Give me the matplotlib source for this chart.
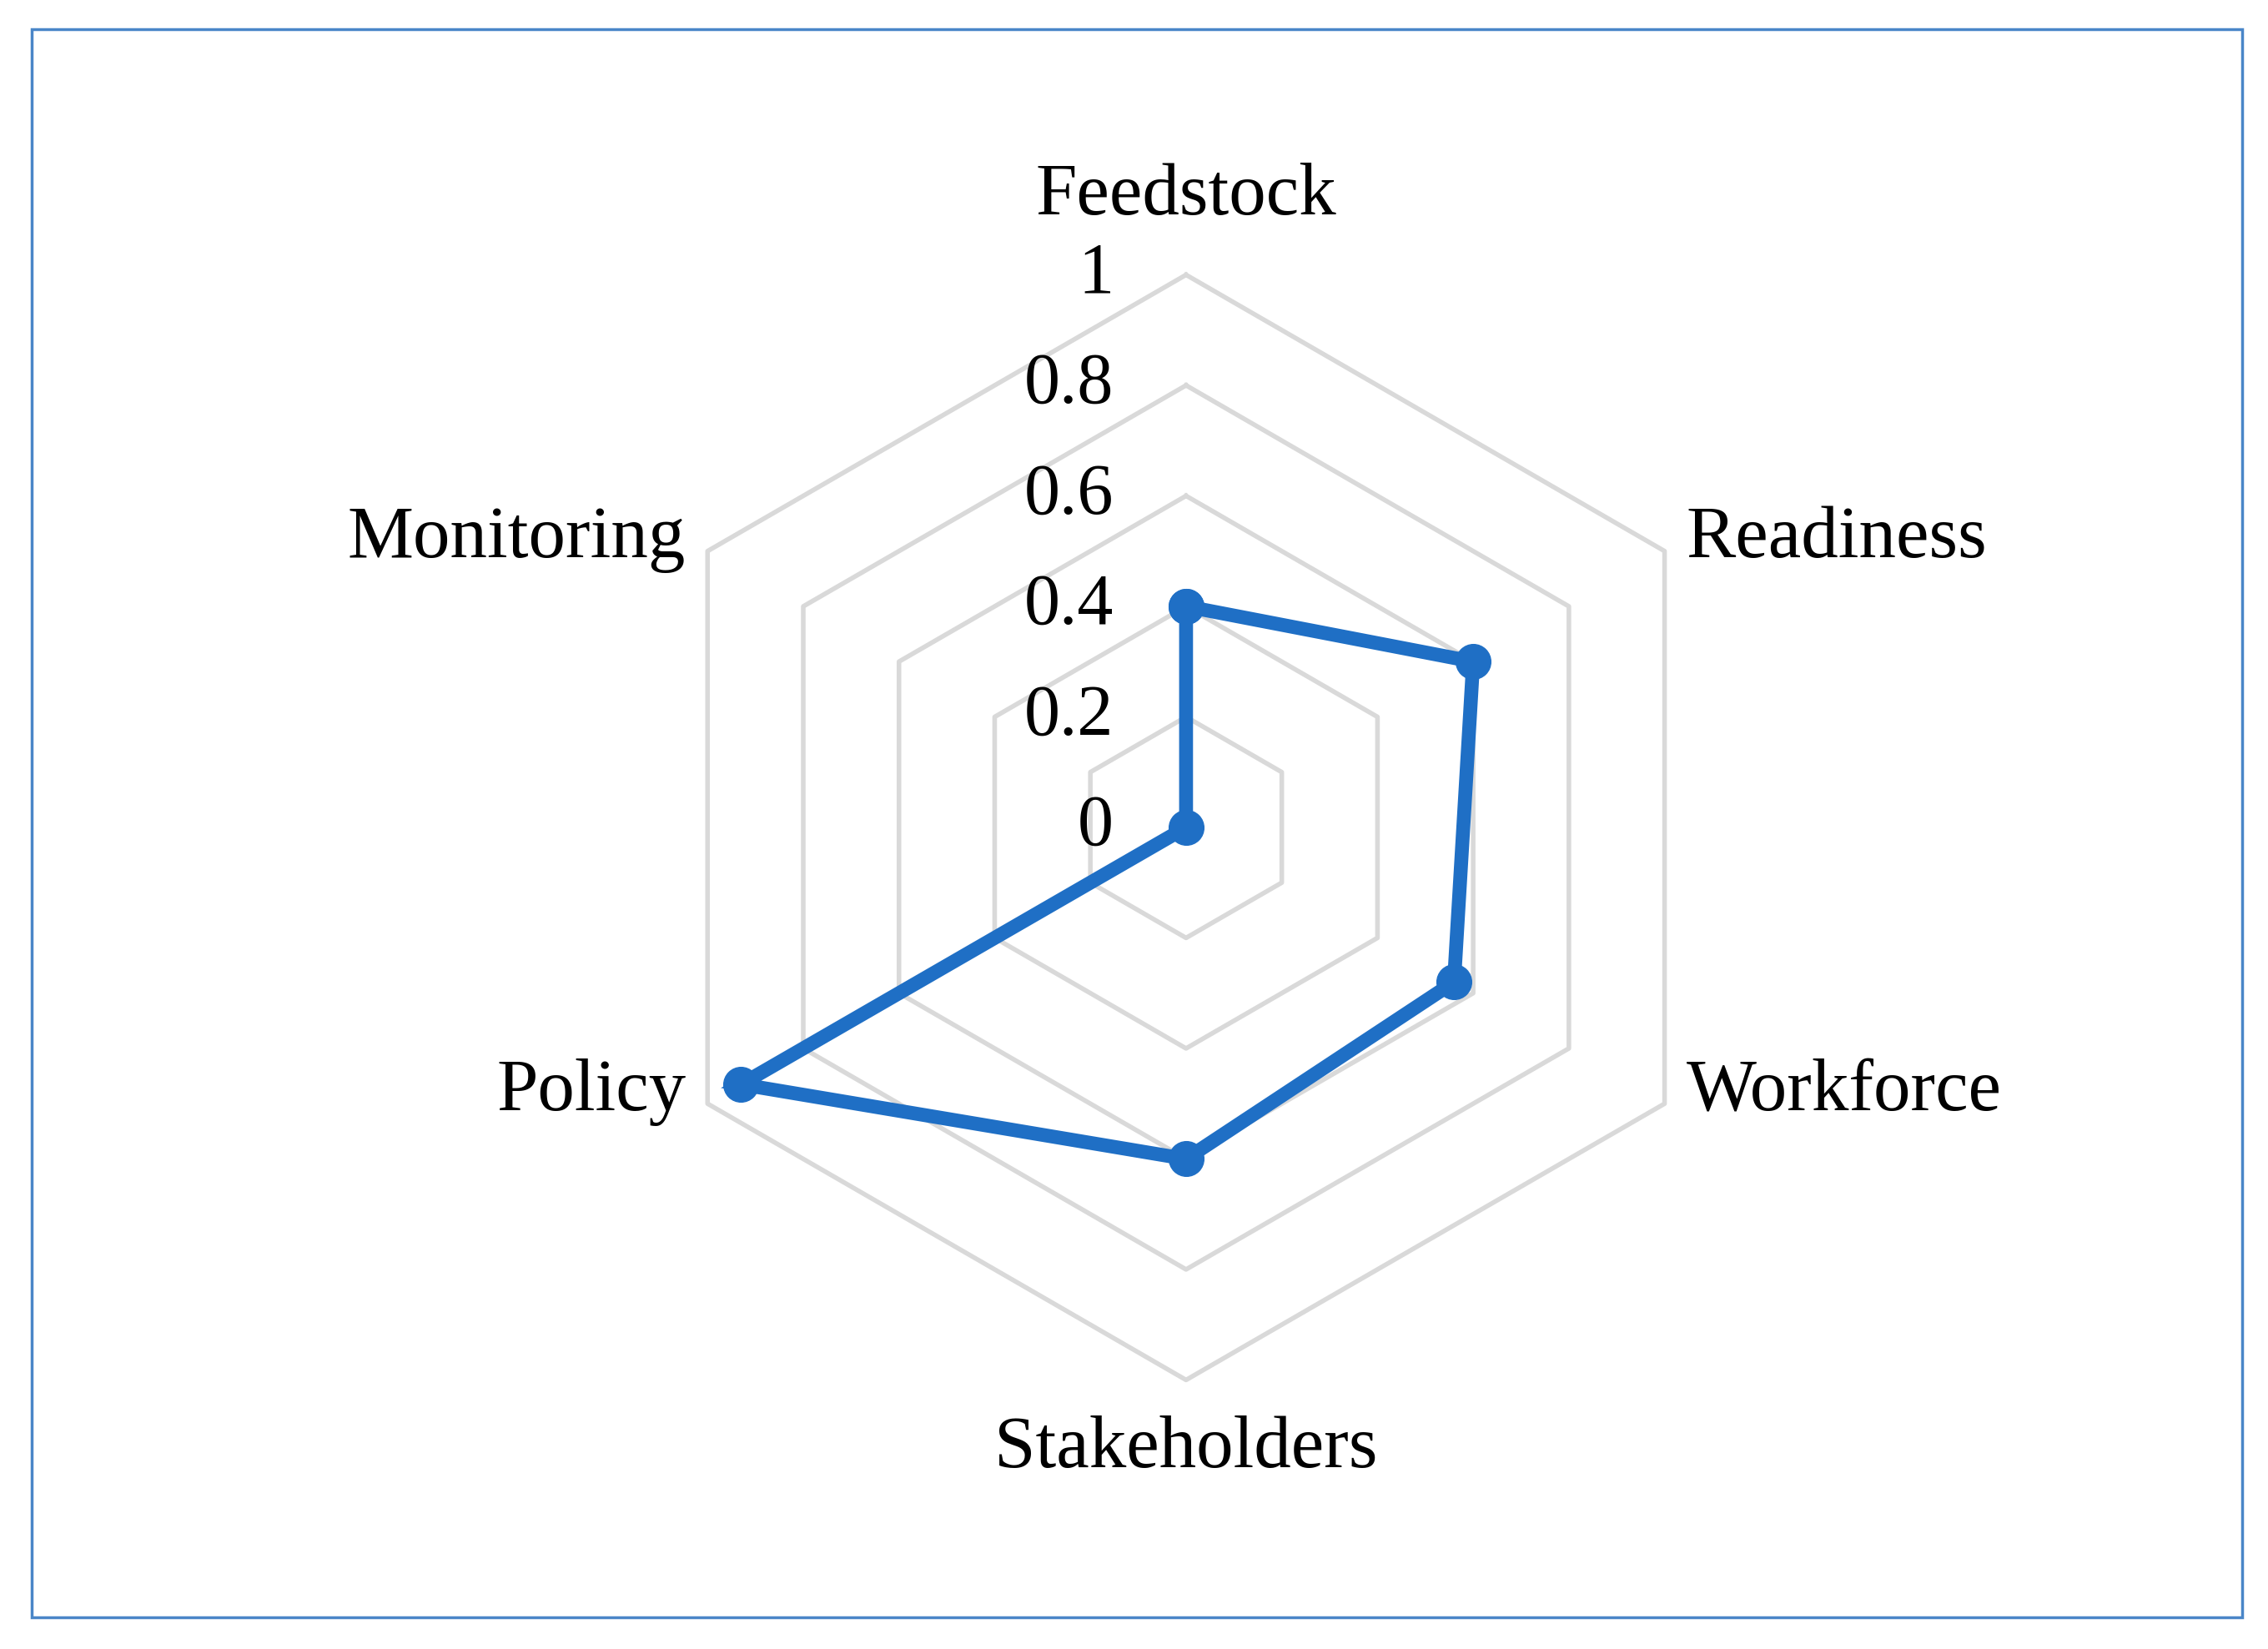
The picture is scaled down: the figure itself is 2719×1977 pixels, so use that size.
import numpy as np
import matplotlib.pyplot as plt
from matplotlib.patches import Rectangle

categories = ["Feedstock", "Readiness", "Workforce", "Stakeholders", "Policy", "Monitoring"]
values = [0.4, 0.6, 0.56, 0.6, 0.93, 0.0]
ticks = [0, 0.2, 0.4, 0.6, 0.8, 1]
tick_labels = ["0", "0.2", "0.4", "0.6", "0.8", "1"]

W, H = 1568, 1140
cx, cy, R = 820, 572, 382
fig = plt.figure(figsize=(27.19, 19.77), dpi=100)
ax = fig.add_axes([0, 0, 1, 1])
ax.set_xlim(0, W); ax.set_ylim(H, 0); ax.axis('off')

ang = np.pi/2 - np.arange(6) * 2*np.pi/6
ux, uy = np.cos(ang), -np.sin(ang)
font = 'Liberation Serif'
for t in ticks[1:]:
    xs = np.append(cx + ux*R*t, cx + ux[0]*R*t)
    ys = np.append(cy + uy*R*t, cy + uy[0]*R*t)
    ax.plot(xs, ys, color='#d9d9d9', lw=4, zorder=1)
for t, lab in zip(ticks, tick_labels):
    ax.text(cx - 50, cy - R*t, lab, ha='right', va='center', fontsize=62, family=font)

v = np.array(values)
xs = np.append(cx + ux*R*v, cx + ux[0]*R*v[0])
ys = np.append(cy + uy*R*v, cy + uy[0]*R*v[0])
ax.plot(xs, ys, color='#1f6fc5', lw=12, marker='o', markersize=30, zorder=3, solid_joinstyle='miter')

for i, c in enumerate(categories):
    if abs(ux[i]) < 0.1:
        x = cx
        y = cy + uy[i]*(R + 48) + (-6 if uy[i] < 0 else 0)
        ha = 'center'
    else:
        x = cx + ux[i]*R + (15 if ux[i] > 0 else -15)
        y = cy + uy[i]*R - 8
        ha = 'left' if ux[i] > 0 else 'right'
    ax.text(x, y, c, ha=ha, va='center', fontsize=64, family=font)

ax.add_patch(Rectangle((22, 20), 1528, 1098, fill=False, ec='#4a86c8', lw=2.5))
fig.savefig('out.png', dpi=100)
